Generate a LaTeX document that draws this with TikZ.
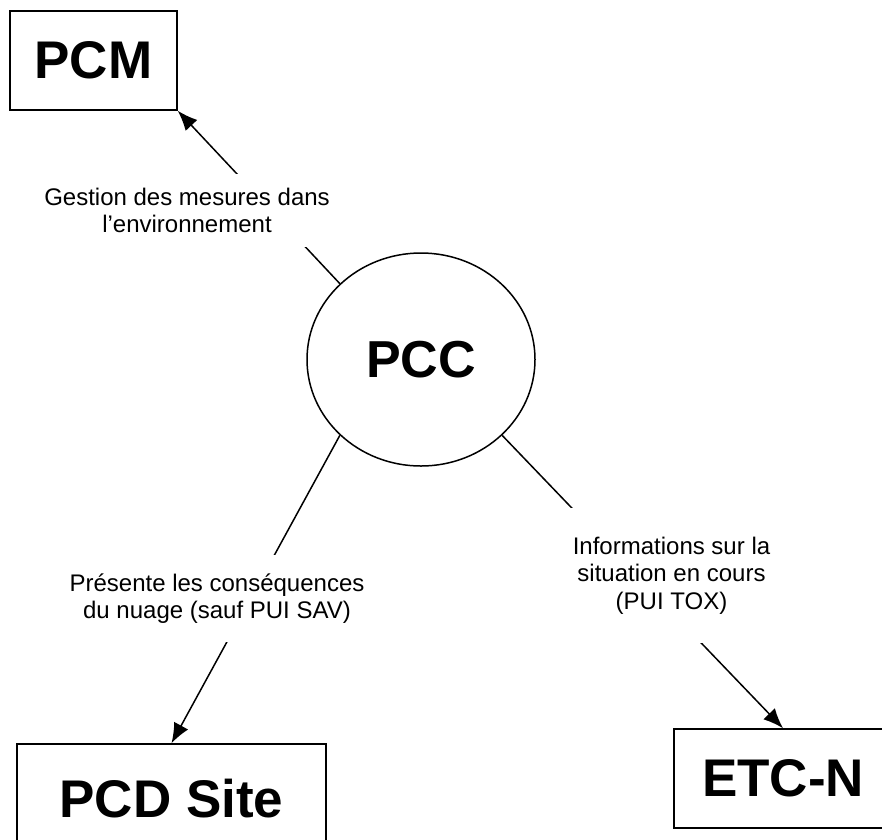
\documentclass[tikz,border=0pt]{standalone}
\usepackage{fontspec}
\setmainfont{Liberation Sans}
\usepackage{tikz}
\usetikzlibrary{shapes.geometric,arrows.meta,positioning}

\tikzset{
  bigbox/.style={draw,rectangle,line width=1.5pt,inner sep=0pt,font=\fontsize{53}{60}\selectfont\bfseries},
  lbl/.style={fill=white,align=center,inner xsep=4pt,font=\fontsize{24}{27.5}\selectfont},
  link/.style={line width=1.5pt},
  flow/.style={link,-{Latex[length=20pt,width=16pt]}}
}

\begin{document}
\begin{tikzpicture}[x=1pt,y=-1pt]
            \useasboundingbox (0,0) rectangle (882,839);

            % Centre
            \node[draw,ellipse,line width=1.5pt,inner sep=0pt,minimum width=228pt,minimum height=213pt,
                  font=\fontsize{52}{60}\selectfont\bfseries] (pcc) at (421,359.5) {PCC};

            % Partners
            \node[bigbox,minimum width=167pt,minimum height=99pt] (pcm) at (93.5,60.5) {PCM};
            \node[bigbox,minimum width=309pt,minimum height=110pt] (pcd) at (171.5,799) {PCD Site};
            \node[bigbox,minimum width=218pt,minimum height=99pt] (etc) at (783,778.5) {ETC-N};

            % Flows
            \draw[flow] (pcc.north west) -- (pcm.south east);
            \draw[flow] (pcc.south west) -- (pcd.north);
            \draw[flow] (pcc.south east) -- (etc.north);

            % Flow labels
            \node[lbl,inner ysep=14pt] (lblmes) at (187,210.5) {Gestion des mesures dans\\l’environnement};
            \node[lbl,inner ysep=18.5pt] (lblnua) at (217,598.5) {Présente les conséquences\\du nuage (sauf PUI SAV)};
            \node[lbl,inner ysep=29pt] (lblinf) at (671.5,575.5) {Informations sur la\\situation en cours\\(PUI TOX)};
        \end{tikzpicture}
\end{document}
